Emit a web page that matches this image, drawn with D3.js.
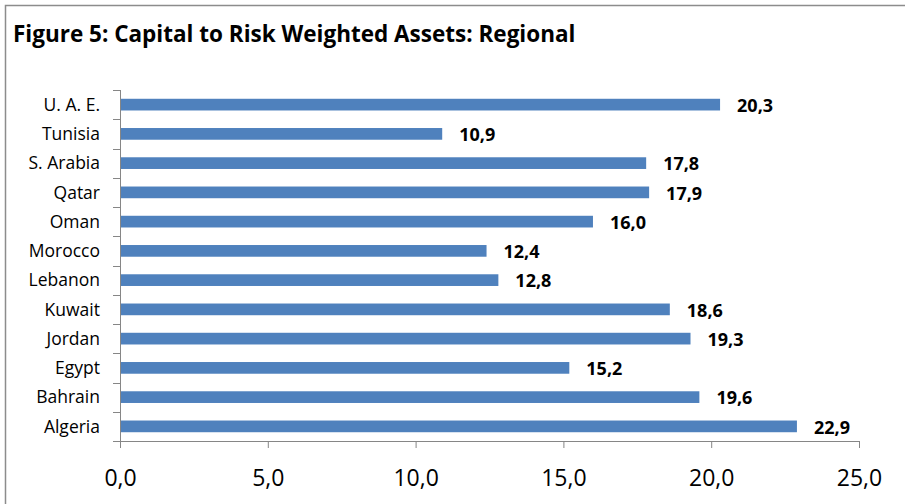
<!DOCTYPE html>
<html>
<head>
<meta charset="utf-8">
<script src="https://cdn.jsdelivr.net/npm/d3@7"></script>
<style>
  body { margin: 0; background: #fff; }
  text { font-family: "Open Sans", "Noto Sans", sans-serif; }
</style>
</head>
<body>
<div class="chart"></div>
<script>

const countries = ["U. A. E.", "Tunisia", "S. Arabia", "Qatar", "Oman", "Morocco",
	"Lebanon", "Kuwait", "Jordan", "Egypt", "Bahrain", "Algeria"];
const values = [20.3, 10.9, 17.8, 17.9, 16.0, 12.4, 12.8, 18.6, 19.3, 15.2, 19.6, 22.9];
const ticks = [0, 5, 10, 15, 20, 25];

const data = countries.map((c, i) => ({ country: c, value: values[i] }));

const width = 905;
const height = 504;
const fmt = (v) => v.toFixed(1).replace(".", ",");

const svg = d3.select(".chart").append("svg")
	.attr("width", width)
	.attr("height", height);

// chart frame
svg.append("rect")
	.attr("x", 5.5)
	.attr("y", 5.5)
	.attr("width", width + 10)
	.attr("height", height + 10)
	.attr("fill", "none")
	.attr("stroke", "#8c8c8c")
	.attr("stroke-width", 1.5);

svg.append("text")
	.attr("x", 13)
	.attr("y", 42)
	.attr("font-size", 22.5)
	.attr("font-weight", "bold")
	.text("Figure 5: Capital to Risk Weighted Assets: Regional");

const x = d3.scaleLinear()
	.domain([0, 25])
	.range([120, 859]);

const y = d3.scaleBand()
	.domain(countries)
	.range([90, 441])
	.paddingInner(0.6)
	.paddingOuter(0.3);

svg.selectAll(".bar")
	.data(data).enter()
	.append("rect")
		.attr("class", "bar")
		.attr("x", x(0))
		.attr("y", (d) => y(d.country))
		.attr("width", (d) => x(d.value) - x(0))
		.attr("height", y.bandwidth())
		.attr("fill", "#4f81bd");

svg.selectAll(".val")
	.data(data).enter()
	.append("text")
		.attr("class", "val")
		.attr("x", (d) => x(d.value) + 17)
		.attr("y", (d) => y(d.country) + y.bandwidth() / 2)
		.attr("dy", "0.4em")
		.attr("font-size", 18)
		.attr("font-weight", "bold")
		.text((d) => fmt(d.value));

// y axis with ticks between categories
const step = (441 - 90) / countries.length;
const yAxis = svg.append("g").attr("class", "y-axis");
yAxis.append("line")
	.attr("x1", 120.5).attr("x2", 120.5)
	.attr("y1", 90).attr("y2", 441)
	.attr("stroke", "#868686");
yAxis.selectAll(".ytick")
	.data(d3.range(countries.length + 1)).enter()
	.append("line")
		.attr("x1", 113).attr("x2", 120)
		.attr("y1", (i) => Math.round(90 + i * step) + 0.5)
		.attr("y2", (i) => Math.round(90 + i * step) + 0.5)
		.attr("stroke", "#868686");
yAxis.selectAll(".ylab")
	.data(countries).enter()
	.append("text")
		.attr("x", 100)
		.attr("y", (d) => y(d) + y.bandwidth() / 2)
		.attr("dy", "0.36em")
		.attr("text-anchor", "end")
		.attr("font-size", 17.5)
		.text((d) => d);

const xAxis = svg.append("g")
	.attr("transform", "translate(0,441)")
	.call(d3.axisBottom(x).tickValues(ticks).tickSize(7).tickPadding(22).tickFormat(fmt));
xAxis.select(".domain").attr("stroke", "#868686").attr("d", "M120.5,0.5H859.5");
xAxis.selectAll(".tick line").attr("stroke", "#868686");
xAxis.selectAll(".tick text")
	.attr("font-size", 23)
	.attr("font-family", "\"Open Sans\", sans-serif")
	.attr("fill", "#000");

</script>
</body>
</html>
